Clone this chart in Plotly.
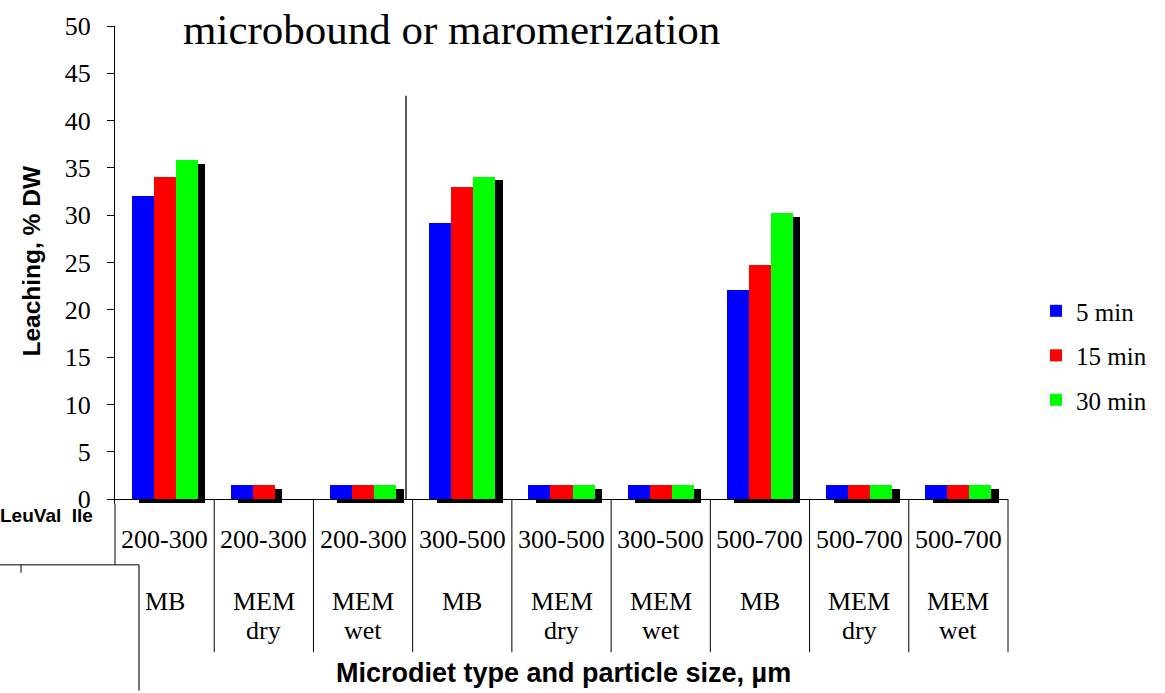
import plotly.graph_objects as go

# ---- data -------------------------------------------------------------
sizes = ["200-300", "200-300", "200-300", "300-500", "300-500", "300-500",
         "500-700", "500-700", "500-700"]
diet_main = ["MB", "MEM", "MEM", "MB", "MEM", "MEM", "MB", "MEM", "MEM"]
diet_sub = ["", "dry", "wet", "", "dry", "wet", "", "dry", "wet"]

series_names = ["5 min", "15 min", "30 min"]
leach_5 = [32.0, 1.5, 1.5, 29.2, 1.5, 1.5, 22.1, 1.5, 1.5]
leach_15 = [34.0, 1.5, 1.5, 33.0, 1.5, 1.5, 24.8, 1.5, 1.5]
leach_30 = [35.8, None, 1.5, 34.1, 1.5, 1.5, 30.2, 1.5, 1.5]
series_colors = ["#0000FF", "#FF0000", "#00FF00"]

y_ticks = [0, 5, 10, 15, 20, 25, 30, 35, 40, 45, 50]

# ---- geometry -----------------------------------------------------------
W, H = 1165, 693
ML, MR, MT, MB_ = 115, 157, 17, 189
PW, PH = W - ML - MR, H - MT - MB_

def px_x(x):
    return (x - ML) / PW

def px_y(y):
    return (H - MB_ - y) / PH

SERIF = "Liberation Serif"
SANS = "Liberation Sans"

cats = [f"{s} {m} {d}".strip() for s, m, d in zip(sizes, diet_main, diet_sub)]
n = len(cats)

bar_w = 0.222
group_left = -1.5 * bar_w
shadow_dx = 0.075
shadow_dy = -0.4

fig = go.Figure()

values = [leach_5, leach_15, leach_30]

# drop shadows behind each bar
for i, vals in enumerate(values):
    fig.add_trace(go.Bar(
        x=cats, y=vals, base=shadow_dy,
        width=bar_w, offset=group_left + i * bar_w + shadow_dx,
        marker=dict(color="black", line=dict(width=0)),
        showlegend=False, hoverinfo="skip",
    ))

# coloured bars
for i, (name, vals, col) in enumerate(zip(series_names, values, series_colors)):
    fig.add_trace(go.Bar(
        x=cats, y=vals, name=name,
        width=bar_w, offset=group_left + i * bar_w,
        marker=dict(color=col, line=dict(width=0)),
        legendgroup=name,
    ))

shapes = []
line_style = dict(color="black", width=1)
# y-axis line continues into the label table
shapes.append(dict(type="line", xref="paper", yref="paper",
                   x0=0, x1=0, y0=0, y1=px_y(566), line=line_style))
# category dividers of the label table
for k in range(1, n + 1):
    xp = k / n
    shapes.append(dict(type="line", xref="paper", yref="paper",
                       x0=xp, x1=xp, y0=px_y(499), y1=px_y(655),
                       line=line_style))
# box at the lower left
shapes.append(dict(type="line", xref="paper", yref="paper",
                   x0=px_x(0), x1=px_x(139), y0=px_y(566), y1=px_y(566),
                   line=line_style))
shapes.append(dict(type="line", xref="paper", yref="paper",
                   x0=px_x(139), x1=px_x(139), y0=px_y(566), y1=px_y(694),
                   line=dict(color="#444444", width=1.5)))
shapes.append(dict(type="line", xref="paper", yref="paper",
                   x0=px_x(21), x1=px_x(21), y0=px_y(566), y1=px_y(574),
                   line=line_style))
# thin vertical rule inside the plot
shapes.append(dict(type="line", xref="paper", yref="paper",
                   x0=px_x(406), x1=px_x(406), y0=px_y(499), y1=px_y(88),
                   line=dict(color="#222222", width=1.5)))

annotations = []
for c, s, m, d in zip(cats, sizes, diet_main, diet_sub):
    annotations.append(dict(x=c, xref="x", y=px_y(540), yref="paper",
                            text=s, showarrow=False, xanchor="center",
                            yanchor="middle",
                            font=dict(family=SERIF, size=26, color="black")))
    annotations.append(dict(x=c, xref="x", y=px_y(603), yref="paper",
                            text=m, showarrow=False, xanchor="center",
                            yanchor="middle",
                            font=dict(family=SERIF, size=26, color="black")))
    if d:
        annotations.append(dict(x=c, xref="x", y=px_y(633), yref="paper",
                                text=d, showarrow=False, xanchor="center",
                                yanchor="middle",
                                font=dict(family=SERIF, size=26, color="black")))

annotations.append(dict(x=px_x(563), xref="paper", y=px_y(676), yref="paper",
                        text="<b>Microdiet type and particle size, µm</b>",
                        showarrow=False, xanchor="center", yanchor="middle",
                        font=dict(family=SANS, size=27, color="black")))
annotations.append(dict(x=px_x(32), xref="paper", y=px_y(257), yref="paper",
                        text="<b>Leaching, % DW</b>", textangle=-90,
                        showarrow=False, xanchor="center", yanchor="middle",
                        font=dict(family=SANS, size=24.5, color="black")))
annotations.append(dict(x=px_x(181), xref="paper", y=px_y(21), yref="paper",
                        text="microbound or maromerization",
                        showarrow=False, xanchor="left", yanchor="middle",
                        font=dict(family=SERIF, size=43, color="black")))
annotations.append(dict(x=px_x(-2), xref="paper", y=px_y(516), yref="paper",
                        text="<b>LeuVal  Ile</b>", showarrow=False,
                        xanchor="left", yanchor="middle",
                        font=dict(family=SANS, size=19, color="black")))

fig.update_layout(
    width=W, height=H,
    margin=dict(l=ML, r=MR, t=MT, b=MB_, pad=0),
    paper_bgcolor="white", plot_bgcolor="white",
    barmode="overlay",
    bargap=0,
    showlegend=True,
    legend=dict(x=px_x(1036), xanchor="left", y=px_y(284), yanchor="top",
                font=dict(family=SERIF, size=25, color="black"),
                tracegroupgap=9, bgcolor="rgba(0,0,0,0)",
                traceorder="grouped"),
    xaxis=dict(type="category", categoryorder="array", categoryarray=cats,
               range=[-0.5, n - 0.5], showticklabels=False, showgrid=False,
               zeroline=False, showline=False, ticks=""),
    yaxis=dict(range=[-0.5, 50], tickvals=y_ticks, ticks="outside",
               ticklen=7, tickcolor="black", showgrid=False,
               showline=True, linecolor="black", linewidth=1,
               zeroline=True, zerolinecolor="black", zerolinewidth=1,
               ticklabelstandoff=11,
               tickfont=dict(family=SERIF, size=26, color="black")),
    shapes=shapes,
    annotations=annotations,
)

fig.write_html("out.html")
